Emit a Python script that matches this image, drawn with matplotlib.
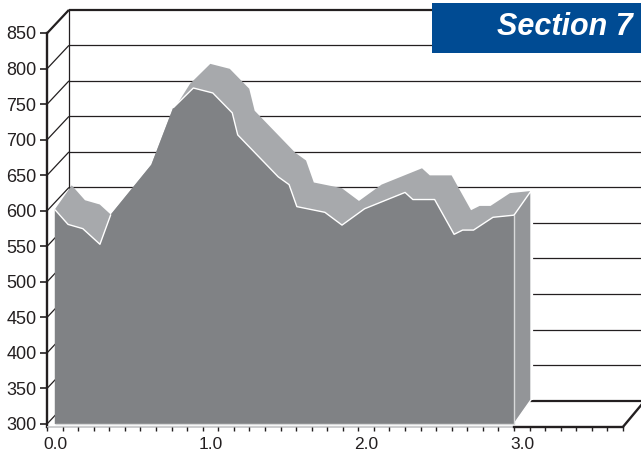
from matplotlib import pyplot as plt

x_vals = [0.05, 0.135, 0.23, 0.34, 0.41, 0.67, 0.81, 0.94, 1.065, 1.19, 1.225, 1.485, 1.555, 1.605,
	1.785, 1.895, 2.04, 2.30, 2.35, 2.49, 2.615, 2.67, 2.74, 2.865, 3.0]
y_vals = [602, 581, 575, 553, 595, 665, 745, 773, 766, 738, 707, 648, 637, 606,
	598, 580, 603, 626, 616, 616, 567, 573, 573, 591, 594]
# rear edge of the band, mostly the same but it stays behind the front on the climb
back_x = [0.05, 0.135, 0.23, 0.34, 0.41, 0.56, 0.695, 0.81, 0.94, 1.065, 1.19, 1.225, 1.485, 1.555, 1.605,
	1.785, 1.895, 2.04, 2.30, 2.35, 2.49, 2.615, 2.67, 2.74, 2.865, 3.0]
back_y = [602, 581, 575, 553, 575, 616, 705, 745, 773, 766, 738, 707, 648, 637, 606,
	598, 580, 603, 626, 616, 616, 567, 573, 573, 591, 594]
y_ticks = [300, 350, 400, 450, 500, 550, 600, 650, 700, 750, 800, 850]
x_ticks = [0.0, 1.0, 2.0, 3.0]
title = "Section 7"

INK = "#231f20"
DARK = "#808285"
LIGHT = "#a7a9ac"
SIDE = "#939598"
BLUE = "#004b93"

W, H = 641, 451
plt.rcParams['font.family'] = ['Liberation Sans', 'DejaVu Sans']

fig = plt.figure(figsize=(W / 100, H / 100), dpi=100)
ax = fig.add_axes([47 / W, (H - 424) / H, (623 - 47) / W, (424 - 33.3) / H])
ax.set_xlim(0, 3.7)
ax.set_ylim(300, 850)
ax.axis("off")

# depth of the wall and of the extruded band, in data units
wall_dx, wall_dy = 0.141, 33
band_dx, band_dy = 0.109, 34
axis_y = 296


def line(xs, ys, lw=0.9, color=INK, z=1, cap="butt"):
	ax.plot(xs, ys, color=color, lw=lw, zorder=z, clip_on=False, solid_capstyle=cap)


# back wall and side wall
for v in y_ticks:
	line([wall_dx, 4.0], [v + wall_dy, v + wall_dy], lw=1.6 if v in (300, 850) else 0.9)
	line([0, wall_dx], [v, v + wall_dy], lw=1.6 if v == 850 else 0.9)
	line([-0.045, 0], [v, v], lw=1.2)
line([wall_dx, wall_dx], [300 + wall_dy, 850 + wall_dy], lw=0.9)
line([0, 0], [axis_y, 850], lw=1.7, cap="projecting")

# floor
line([0, 3.0], [axis_y, axis_y], lw=1.3, color="#c8c9cb", z=1)
line([3.0, 3.7], [axis_y, axis_y], lw=1.7, z=2, cap="projecting")
line([3.7, 3.7 + 0.141], [axis_y, axis_y + 37], lw=1.7)
for i in range(38):
	t = i / 10
	line([t, t], [axis_y, axis_y - 6], lw=1.0)

# extruded band
top_x = [x + band_dx for x in back_x]
top_y = [y + band_dy for y in back_y]
ax.fill(top_x + x_vals[::-1], top_y + y_vals[::-1], facecolor=LIGHT, edgecolor="none", zorder=3, clip_on=False)
ax.fill([3.0, 3.0 + band_dx, 3.0 + band_dx, 3.0], [300, 300 + band_dy, top_y[-1], y_vals[-1]],
	facecolor=SIDE, edgecolor="white", lw=1.0, zorder=3, clip_on=False)
line([3.0 + band_dx + 0.008] * 2, [300 + band_dy, top_y[-1]], lw=1.6, color="white", z=2)

# front face
ax.fill([x_vals[0]] + x_vals + [x_vals[-1]], [300] + y_vals + [300], facecolor=DARK,
	edgecolor="none", zorder=4, clip_on=False)
line(x_vals[:5], y_vals[:5], lw=1.0, color="white", z=5)
line(x_vals[6:], y_vals[6:], lw=1.0, color="white", z=5)
line([x_vals[0], 3.0, 3.0], [300, 300, y_vals[-1]], lw=1.0, color="#d8d9da", z=5)

# tick labels
for v in y_ticks:
	ax.annotate(str(v), (0, v), xytext=(-7.5, -1.2), textcoords="offset points", ha="right", va="center",
		fontsize=13, color=INK, annotation_clip=False)
for t in x_ticks:
	ax.annotate("{:.1f}".format(t), (t, axis_y), xytext=(6, -16.2), textcoords="offset points", ha="center", va="baseline",
		fontsize=12.5, color=INK, annotation_clip=False)

# section banner
fig.patches.append(plt.Rectangle((432 / W, (H - 53) / H), (W - 432) / W, 50 / H, transform=fig.transFigure,
	facecolor=BLUE, edgecolor="none", zorder=10))
fig.text(633 / W, (H - 27) / H, title, color="white", fontsize=22, fontweight="bold", fontstyle="italic",
	ha="right", va="center", zorder=11)

fig.savefig("out.png", dpi=100)
